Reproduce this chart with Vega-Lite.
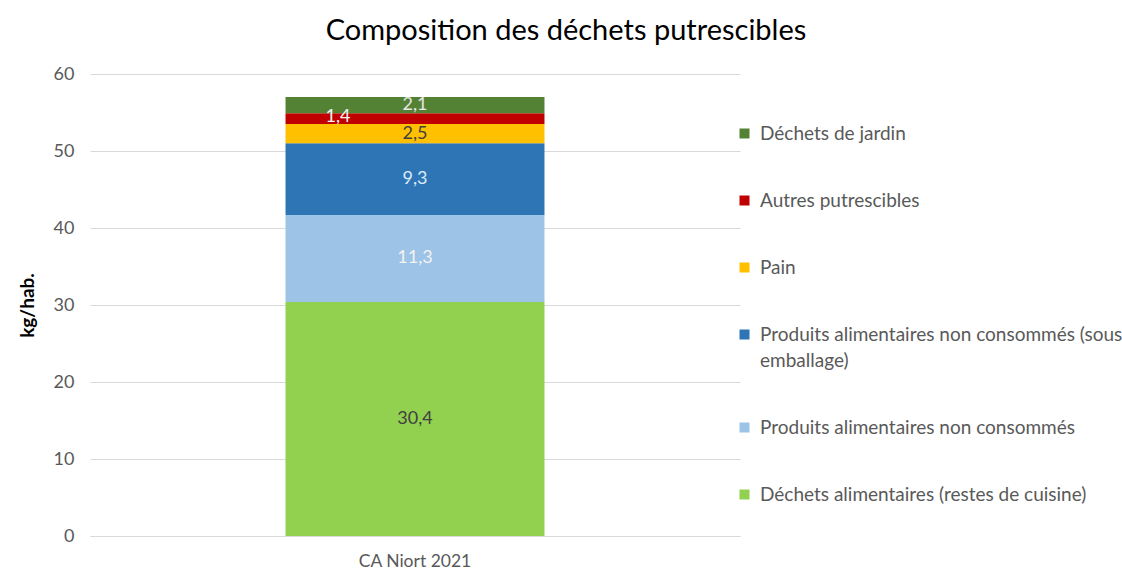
{
  "$schema": "https://vega.github.io/schema/vega-lite/v6.json",
  "autosize": {"type": "none"},
  "padding": {"left": 90, "top": 74, "right": 382, "bottom": 34},
  "width": 650,
  "height": 462,
  "background": "white",
  "config": {
    "font": "Lato",
    "view": {"stroke": null},
    "locale": {"number": {"decimal": ",", "thousands": " ", "grouping": [3], "currency": ["", " €"]}},
    "style": {"guide-label": {"lineHeight": 26}},
    "axisY": {
      "domain": false,
      "ticks": false,
      "gridColor": "#D9D9D9",
      "labelFontSize": 18,
      "labelColor": "#595959",
      "labelFont": "Lato",
      "labelPadding": 16,
      "titleFontSize": 19,
      "titleFont": "Lato",
      "titleFontWeight": "bold",
      "titleColor": "#000000",
      "titlePadding": 16
    }
  },
  "title": {
    "text": "Composition des déchets putrescibles",
    "fontSize": 29,
    "fontWeight": "normal",
    "font": "Lato",
    "color": "#000000",
    "anchor": "middle",
    "dx": 151,
    "offset": 19
  },
  "data": {
    "values": [
      {"zone": "CA Niort 2021", "cat": "Déchets alimentaires (restes de cuisine)", "rank": 1, "value": 30.4},
      {"zone": "CA Niort 2021", "cat": "Produits alimentaires non consommés", "rank": 2, "value": 11.3},
      {"zone": "CA Niort 2021", "cat": "Produits alimentaires non consommés (sous emballage)", "rank": 3, "value": 9.3},
      {"zone": "CA Niort 2021", "cat": "Pain", "rank": 4, "value": 2.5},
      {"zone": "CA Niort 2021", "cat": "Autres putrescibles", "rank": 5, "value": 1.4},
      {"zone": "CA Niort 2021", "cat": "Déchets de jardin", "rank": 6, "value": 2.1}
    ]
  },
  "transform": [
    {"stack": "value", "groupby": ["zone"], "sort": [{"field": "rank", "order": "ascending"}], "as": ["y0", "y1"]},
    {"calculate": "(datum.y0 + datum.y1) / 2", "as": "ymid"}
  ],
  "encoding": {
    "x": {
      "field": "zone",
      "type": "nominal",
      "title": null,
      "scale": {"paddingInner": 0, "paddingOuter": 0.755},
      "axis": {
        "labelAngle": 0,
        "labelFontSize": 17.5,
        "labelColor": "#595959",
        "labelFont": "Lato",
        "ticks": false,
        "domainColor": "#D9D9D9",
        "labelPadding": 16
      }
    }
  },
  "layer": [
    {
      "mark": {"type": "bar"},
      "encoding": {
        "y": {
          "field": "y0",
          "type": "quantitative",
          "scale": {"domain": [0, 60]},
          "title": "kg/hab.",
          "axis": {"values": [0, 10, 20, 30, 40, 50, 60]}
        },
        "y2": {"field": "y1"},
        "color": {
          "field": "cat",
          "type": "nominal",
          "scale": {
            "domain": [
              "Déchets de jardin",
              "Autres putrescibles",
              "Pain",
              "Produits alimentaires non consommés (sous emballage)",
              "Produits alimentaires non consommés",
              "Déchets alimentaires (restes de cuisine)"
            ],
            "range": ["#548235", "#C00000", "#FFC000", "#2E75B6", "#9DC3E6", "#92D050"]
          },
          "legend": {
            "title": null,
            "orient": "none",
            "legendX": 645,
            "legendY": 50,
            "padding": 0,
            "symbolType": "square",
            "symbolSize": 100,
            "symbolStrokeWidth": 0,
            "labelFontSize": 19,
            "labelFont": "Lato",
            "labelColor": "#595959",
            "labelLimit": 420,
            "labelOffset": 6,
            "rowPadding": 47,
            "labelExpr": "datum.label == 'Produits alimentaires non consommés (sous emballage)' ? ['Produits alimentaires non consommés (sous', 'emballage)'] : datum.label"
          }
        }
      }
    },
    {
      "transform": [{"filter": "datum.cat != 'Autres putrescibles'"}],
      "mark": {"type": "text", "fontSize": 18, "font": "Lato"},
      "encoding": {
        "y": {"field": "ymid", "type": "quantitative", "title": "kg/hab.", "axis": {"values": [0, 10, 20, 30, 40, 50, 60]}},
        "text": {"field": "value", "type": "quantitative", "format": ".1f"},
        "color": {
          "field": "cat",
          "type": "nominal",
          "scale": {
            "domain": [
              "Déchets de jardin",
              "Pain",
              "Produits alimentaires non consommés (sous emballage)",
              "Produits alimentaires non consommés",
              "Déchets alimentaires (restes de cuisine)"
            ],
            "range": ["#E7E6E6", "#404040", "#DDEBF7", "#F2F2F2", "#404040"]
          },
          "legend": null
        }
      }
    },
    {
      "transform": [{"filter": "datum.cat == 'Autres putrescibles'"}],
      "mark": {"type": "text", "fontSize": 18, "font": "Lato", "dx": -77, "dy": -2, "color": "#F2F2F2"},
      "encoding": {
        "y": {"field": "ymid", "type": "quantitative", "title": "kg/hab.", "axis": {"values": [0, 10, 20, 30, 40, 50, 60]}},
        "text": {"field": "value", "type": "quantitative", "format": ".1f"}
      }
    }
  ],
  "resolve": {"scale": {"color": "independent"}}
}
